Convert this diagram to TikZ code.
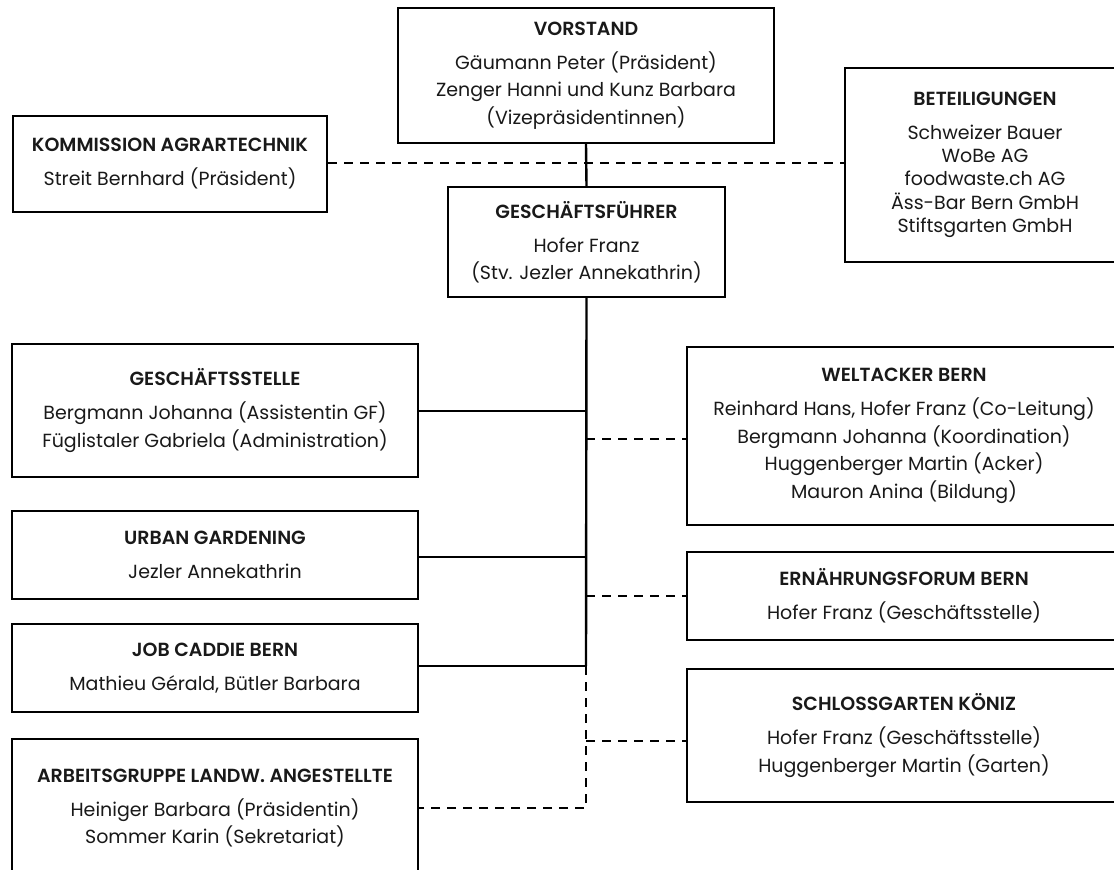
\documentclass[tikz,border=0pt]{standalone}
\usepackage{fontspec}
\setmainfont{Poppins}[BoldFont={Poppins SemiBold}]
\newcommand{\boxtitle}[1]{\textbf{#1}\\[6.5pt]}
\tikzset{
  orgbox/.style={draw=black, fill=white, line width=2.4pt, rectangle, align=center,
    inner sep=0pt, text=black!90, font=\fontsize{19pt}{27.5pt}\selectfont},
  solidlink/.style={draw=black, line width=2.4pt},
  dashlink/.style={draw=black, line width=2.4pt, dash pattern=on 9pt off 7pt},
}
\begin{document}
\begin{tikzpicture}[x=1pt,y=-1pt]
\useasboundingbox (0,0) rectangle (1114,870);
\fill[white] (0,0) rectangle (1114,870);
\clip (0,0) rectangle (1114,870);

% boxes
\node[orgbox, minimum width=376pt, minimum height=135pt] (vorstand) at (586,75.5)
  {\boxtitle{VORSTAND}Gäumann Peter (Präsident)\\Zenger Hanni und Kunz Barbara\\(Vizepräsidentinnen)};
\node[orgbox, minimum width=314pt, minimum height=96pt] (komm) at (170,164)
  {\boxtitle{KOMMISSION AGRARTECHNIK}Streit Bernhard (Präsident)};
\node[orgbox, minimum width=280pt, minimum height=194pt, font=\fontsize{19pt}{23.3pt}\selectfont] (beteil) at (985,165)
  {\textbf{BETEILIGUNGEN}\\[10pt]Schweizer Bauer\\WoBe AG\\foodwaste.ch AG\\Äss-Bar Bern GmbH\\Stiftsgarten GmbH};
\node[orgbox, minimum width=277pt, minimum height=110pt] (gf) at (586.5,242)
  {\boxtitle{GESCHÄFTSFÜHRER}Hofer Franz\\(Stv. Jezler Annekathrin)};
\node[orgbox, minimum width=406pt, minimum height=133pt] (gs) at (215,410.5)
  {\boxtitle{GESCHÄFTSSTELLE}Bergmann Johanna (Assistentin GF)\\Füglistaler Gabriela (Administration)};
\node[orgbox, minimum width=434pt, minimum height=178pt] (wt) at (904,436)
  {\boxtitle{WELTACKER BERN}Reinhard Hans, Hofer Franz (Co-Leitung)\\Bergmann Johanna (Koordination)\\Huggenberger Martin (Acker)\\Mauron Anina (Bildung)};
\node[orgbox, minimum width=406pt, minimum height=88pt] (ug) at (215,555)
  {\boxtitle{URBAN GARDENING}Jezler Annekathrin};
\node[orgbox, minimum width=434pt, minimum height=88pt] (ef) at (904,596)
  {\boxtitle{ERNÄHRUNGSFORUM BERN}Hofer Franz (Geschäftsstelle)};
\node[orgbox, minimum width=406pt, minimum height=88pt] (jc) at (215,668)
  {\boxtitle{JOB CADDIE BERN}Mathieu Gérald, Bütler Barbara};
\node[orgbox, minimum width=434pt, minimum height=133pt] (sg) at (904,735.5)
  {\boxtitle{SCHLOSSGARTEN KÖNIZ}Hofer Franz (Geschäftsstelle)\\Huggenberger Martin (Garten)};
\node[orgbox, minimum width=406pt, minimum height=138pt] (ag) at (215,808)
  {\boxtitle{ARBEITSGRUPPE LANDW. ANGESTELLTE}Heiniger Barbara (Präsidentin)\\Sommer Karin (Sekretariat)};

% junction points on the trunk
\coordinate (jk) at (586,163);
\coordinate (jgs) at (586,411);
\coordinate (jwt) at (586,439);
\coordinate (jug) at (586,557);
\coordinate (jef) at (586,596);
\coordinate (jjc) at (586,666);
\coordinate (jsg) at (586,741);
\coordinate (jag) at (586,808);

% connectors
\draw[solidlink] (vorstand.south) -- (gf.north);
\draw[dashlink] (komm.east |- jk) -- (beteil.west |- jk);
\draw[solidlink] (gf.south) -- (jjc);
\draw[dashlink] (jjc) -- (jag) -- (ag.east |- jag);
\draw[solidlink] (gs.east |- jgs) -- (jgs);
\draw[solidlink] (ug.east |- jug) -- (jug);
\draw[solidlink] (jc.east |- jjc) -- (jjc);
\draw[dashlink] (jwt) -- (wt.west |- jwt);
\draw[dashlink] (jef) -- (ef.west |- jef);
\draw[dashlink] (jsg) -- (sg.west |- jsg);
\end{tikzpicture}
\end{document}
